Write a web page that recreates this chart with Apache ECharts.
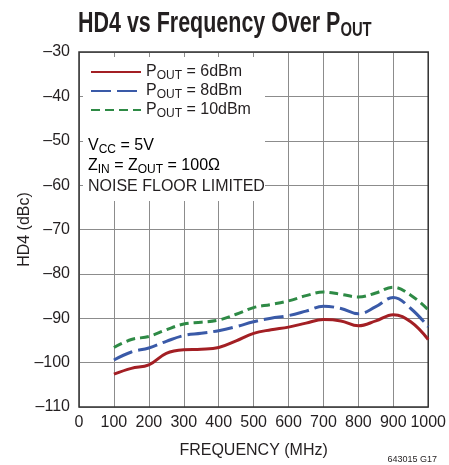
<!DOCTYPE html>
<html>
<head>
<meta charset="utf-8">
<script src="https://cdn.jsdelivr.net/npm/echarts@6/dist/echarts.min.js"></script>
<style>
  html, body { margin: 0; padding: 0; background: #fff; }
  #chart { width: 449px; height: 465px; }
</style>
</head>
<body>
<div id="chart"></div>
<script>
// values
const freqs = [100, 150, 200, 250, 300, 350, 400, 450, 500, 550, 600, 650, 700, 750, 800, 850, 900, 950, 1000]
const hd4_6dBm = [-102.6, -101.3, -100.5, -97.9, -97.1, -97.0, -96.6, -95.1, -93.4, -92.6, -92.0, -91.1, -90.3, -90.6, -91.7, -90.6, -89.2, -90.8, -94.8]
const hd4_8dBm = [-99.4, -97.6, -96.7, -95.2, -93.9, -93.4, -92.8, -91.9, -90.8, -90.0, -89.4, -88.4, -87.3, -87.8, -89.0, -87.4, -85.3, -87.8, -91.9]
const hd4_10dBm = [-96.6, -94.8, -94.1, -92.6, -91.3, -90.9, -90.4, -89.1, -87.6, -86.9, -86.1, -84.9, -84.1, -84.6, -85.2, -84.3, -83.0, -84.8, -88.1]
const seriesNames = ['6dBm', '8dBm', '10dBm']
const xTicks = [0, 1000, 100]
const yTicks = [-110, -30, 10]

const font = "'Liberation Sans', Arial, sans-serif"
const txt = '#231f20'

const pairs = (ys) => freqs.map((f, i) => [f, ys[i]])
const rich = {
  a: { fontFamily: font, fontSize: 16, color: txt },
  s: { fontFamily: font, fontSize: 12, color: txt, padding: [8, 0, 0, 0] }
}

const chart = echarts.init(document.getElementById('chart'))

chart.setOption({
  animation: false,
  grid: { left: 79, right: 18, top: 52, bottom: 58, show: true, borderColor: '#333', borderWidth: 1.5, z: 3 },
  legend: {
    left: 85, top: 59, orient: 'vertical',
    itemWidth: 50, itemHeight: 10, itemGap: 1,
    itemStyle: { opacity: 0 },
    data: seriesNames,
    formatter: (n) => '{a|P}{s|OUT}{a| = ' + n + '}',
    textStyle: { rich: rich }
  },
  xAxis: {
    type: 'value', min: xTicks[0], max: xTicks[1], interval: xTicks[2],
    name: 'FREQUENCY (MHz)', nameLocation: 'middle', nameGap: 36,
    nameTextStyle: { fontFamily: font, fontSize: 16, color: txt },
    axisLine: { show: false }, axisTick: { show: false },
    splitLine: { lineStyle: { color: '#8c8c8c', width: 1 } },
    axisLabel: { fontFamily: font, fontSize: 16, color: txt, margin: 8,
      showMinLabel: true, showMaxLabel: true, hideOverlap: false,
      formatter: (v) => String(v) }
  },
  yAxis: {
    type: 'value', min: yTicks[0], max: yTicks[1], interval: yTicks[2],
    name: 'HD4 (dBc)', nameLocation: 'middle', nameGap: 46, nameMoveOverlap: false,
    nameTextStyle: { fontFamily: font, fontSize: 16, color: txt },
    axisLine: { show: false }, axisTick: { show: false },
    splitLine: { lineStyle: { color: '#8c8c8c', width: 1 } },
    axisLabel: { fontFamily: font, fontSize: 16, color: txt, margin: 9,
      formatter: (v) => String(v).replace('-', '\u2013') }
  },
  graphic: [
    { type: 'text', z: 5, x: 78, y: 8, scaleX: 0.74,
      style: {
        text: '{t|HD4 vs Frequency Over P}{s|OUT}',
        rich: {
          t: { fontFamily: font, fontSize: 29, fontWeight: 'bold', fill: txt },
          s: { fontFamily: font, fontSize: 20, fontWeight: 'bold', fill: txt, padding: [12, 0, 0, 0] }
        }
      } },
    { type: 'rect', z: 1, shape: { x: 83, y: 57, width: 182, height: 144 }, style: { fill: '#fff' } },
    { type: 'text', z: 5, left: 88, top: 138, style: { text: '{a|V}{s|CC}{a| = 5V}', rich: rich } },
    { type: 'text', z: 5, left: 88, top: 158, style: { text: '{a|Z}{s|IN}{a| = Z}{s|OUT}{a| = 100\u03a9}', rich: rich } },
    { type: 'text', z: 5, left: 88, top: 179, style: { text: 'NOISE FLOOR LIMITED', font: '16px ' + font, fill: txt } },
    { type: 'text', z: 5, right: 12, bottom: 1, style: { text: '643015 G17', font: '9px ' + font, fill: txt } }
  ],
  series: [
    { name: seriesNames[0], type: 'line', data: pairs(hd4_6dBm), smooth: 0.4, symbol: 'none', z: 4,
      lineStyle: { color: '#a31f24', width: 3 }, itemStyle: { color: '#a31f24' } },
    { name: seriesNames[1], type: 'line', data: pairs(hd4_8dBm), smooth: 0.4, symbol: 'none', z: 4,
      lineStyle: { color: '#3a5aa8', width: 3, type: [20, 6] }, itemStyle: { color: '#3a5aa8' } },
    { name: seriesNames[2], type: 'line', data: pairs(hd4_10dBm), smooth: 0.4, symbol: 'none', z: 4,
      lineStyle: { color: '#2e8a45', width: 3, type: [9, 5] }, itemStyle: { color: '#2e8a45' } }
  ]
})

window.addEventListener('resize', () => {
  chart.resize()
})
</script>
</body>
</html>
